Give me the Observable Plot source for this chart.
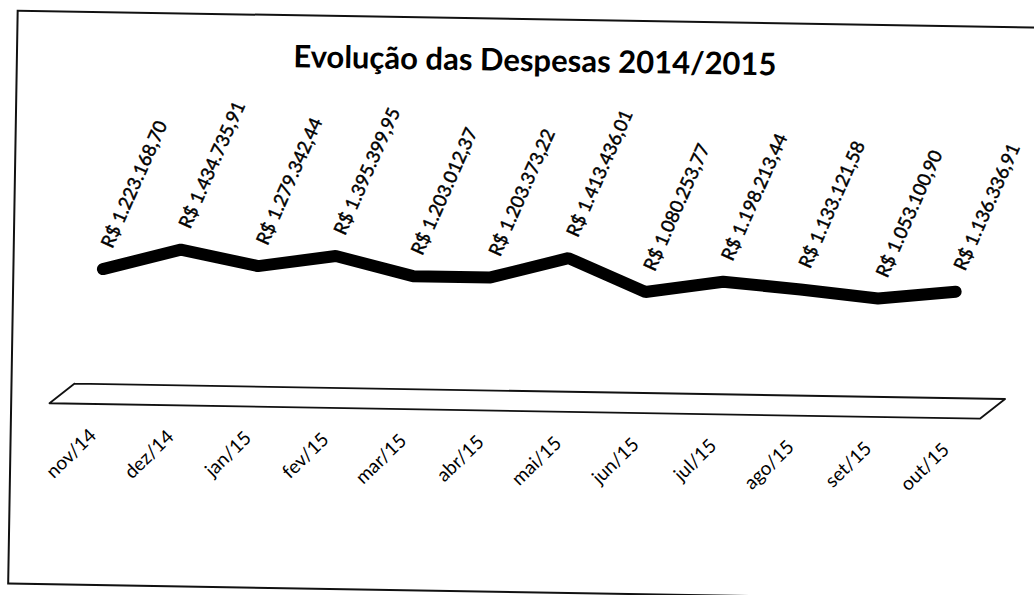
<!DOCTYPE html>
<html>
<head>
<meta charset="utf-8">
<script src="https://cdn.jsdelivr.net/npm/d3@7"></script>
<script src="https://cdn.jsdelivr.net/npm/@observablehq/plot@0.6"></script>
<style>
  html, body { margin: 0; padding: 0; background: #fff; width: 1034px; height: 595px; overflow: hidden; }
  #page { position: absolute; left: 0; top: 0; width: 1034px; height: 595px; transform: rotate(0.95deg); transform-origin: 517px 297px; }
  #border { position: absolute; left: 12px; top: 18px; width: 1080px; height: 575px; border: 2px solid #111; box-sizing: border-box; }
  #title { position: absolute; left: 14px; top: 45px; width: 1034px; text-align: center; font-family: Lato, sans-serif; font-weight: bold; font-size: 31px; line-height: 28px; color: #000; white-space: nowrap; }
  #chart { position: absolute; left: 0; top: 0; }
</style>
</head>
<body>
<div id="page">
  <div id="border"></div>
  <div id="chart"></div>
  <div id="title"></div>
</div>
<script>
const titleText = "Evolução das Despesas 2014/2015";
const months = ["nov/14","dez/14","jan/15","fev/15","mar/15","abr/15","mai/15","jun/15","jul/15","ago/15","set/15","out/15"];
const despesas = [1223168.70, 1434735.91, 1279342.44, 1395399.95, 1203012.37, 1203373.22, 1413436.01, 1080253.77, 1198213.44, 1133121.58, 1053100.90, 1136336.91];

document.getElementById("title").textContent = titleText;

const data = months.map((m, i) => ({i, mes: m, valor: despesas[i]}));
const brl = d3.formatLocale({decimal: ",", thousands: ".", grouping: [3], currency: ["R$ ", ""]}).format("$,.2f");

// 3D floor of the chart (a flat slab under the series), in data units
const n = months.length;
const depthX = 0.16, backY = 50000, frontY = -155000;
const floor = [
  {x: -0.5 + depthX, y: backY},
  {x: n - 0.5 + depthX, y: backY},
  {x: n - 0.5 - depthX, y: frontY},
  {x: -0.5 - depthX, y: frontY},
  {x: -0.5 + depthX, y: backY}
];

const chart = Plot.plot({
  width: 1034,
  height: 595,
  marginTop: 0, marginLeft: 0, marginRight: 0, marginBottom: 152,
  x: {domain: [0, n - 1], range: [102, 955]},
  y: {domain: [0, 1500000], range: [395.3, 248.3], axis: null},
  style: {fontFamily: "Lato, sans-serif", background: "transparent", overflow: "visible", color: "#000"},
  marks: [
    Plot.line(floor, {x: "x", y: "y", stroke: "#111", strokeWidth: 1.8}),
    Plot.line(data, {x: "i", y: "valor", stroke: "#000", strokeWidth: 12, strokeLinejoin: "miter"}),
    Plot.text(data, {x: "i", y: "valor", text: d => brl(d.valor), rotate: -67, textAnchor: "start", lineAnchor: "bottom", dx: 9, dy: -20, fontSize: 18.5, fill: "#000", stroke: "#000", strokeWidth: 0.45}),
    Plot.axisX({ticks: d3.range(n), tickFormat: i => months[i], tickSize: 0, tickPadding: 0, tickRotate: -45, fontSize: 19, dx: -7, dy: -4, anchor: "bottom", fill: "#000", stroke: "#000", strokeWidth: 0.4})
  ]
});
document.getElementById("chart").append(chart);
</script>
</body>
</html>
